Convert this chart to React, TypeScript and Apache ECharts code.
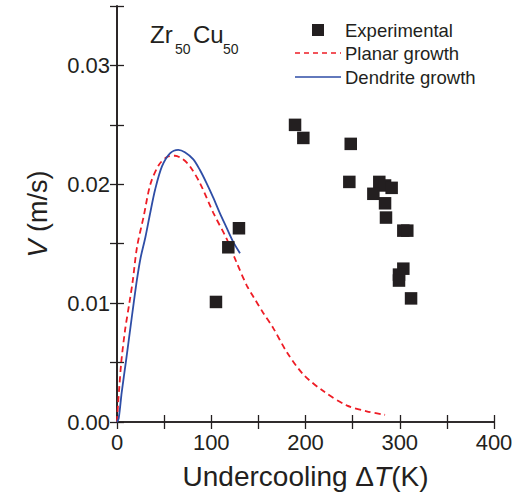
import React, { useEffect, useRef } from "react";
import * as echarts from "echarts";

const expX = [188.9, 197.7, 248, 246.5, 278.3, 284.4, 291.4, 272, 284.4, 285.4, 303.8, 308, 303.8, 299.2, 299.2, 312, 105, 118.1, 129.4];
const expY = [0.025, 0.0239, 0.0234, 0.0202, 0.0202, 0.0199, 0.0197, 0.0192, 0.0184, 0.0172, 0.0161, 0.0161, 0.0129, 0.0124, 0.0119, 0.0104, 0.0101, 0.0147, 0.0163];

const planarX = [0, 1.1, 2.5, 4.6, 8.5, 13.1, 16.6, 21.2, 28.3, 35.4, 44.2, 53, 61.5, 70, 77.5, 88, 102.2, 116.4, 127, 137.6, 145, 155, 165.8, 180, 197.7, 218.9, 243.7, 264.9, 284.4];
const planarY = [0, 0.0015, 0.003, 0.0051, 0.0077, 0.01, 0.0118, 0.0147, 0.0173, 0.02, 0.0216, 0.0223, 0.0224, 0.0221, 0.0215, 0.0201, 0.0176, 0.0154, 0.0134, 0.0115, 0.0105, 0.0092, 0.0079, 0.0059, 0.004, 0.0026, 0.0014, 0.0009, 0.0006];

const dendriteX = [0, 1.8, 5, 9.5, 13.5, 17.7, 21.2, 25, 30, 35, 40.6, 47.7, 56.2, 65, 72, 81, 88, 95, 102, 109, 116, 123, 130.5];
const dendriteY = [0, 0.0003, 0.0025, 0.0051, 0.0075, 0.01, 0.012, 0.0138, 0.0155, 0.0175, 0.0196, 0.0215, 0.0226, 0.0229, 0.0227, 0.0221, 0.0212, 0.0201, 0.0189, 0.0176, 0.0164, 0.0152, 0.0142];

const seriesNames = ["Experimental", "Planar growth", "Dendrite growth"];
const xTickLabels = [0, 100, 200, 300, 400];
const yTickLabels = [0, 0.01, 0.02, 0.03];

const FONT = "Liberation Sans, Arial, sans-serif";
const INK = "#231f20";
const RED = "#ee1c25";
const BLUE = "#2e4da6";

export default function App() {
  const ref = useRef<HTMLDivElement>(null);
  useEffect(() => {
    const chart = echarts.init(ref.current!, null, { renderer: "svg" });
    const axisLine = { show: true, lineStyle: { color: INK, width: 1.6 } };
    const tick = { show: true, inside: true, length: 7, lineStyle: { color: INK, width: 1.3 } };
    const legendText = (y: number, text: string) => ({
      type: "text",
      x: 345,
      y,
      style: { text, fill: INK, font: `18.5px ${FONT}`, textVerticalAlign: "middle", verticalAlign: "middle" },
    });
    chart.setOption({
      animation: false,
      backgroundColor: "#fff",
      textStyle: { fontFamily: FONT },
      grid: { left: 117, top: 6, right: 29, bottom: 71, containLabel: false },
      xAxis: [
        {
          type: "value",
          min: 0,
          max: 400,
          interval: 50,
          position: "bottom",
          axisLine,
          axisTick: tick,
          splitLine: { show: false },
          axisLabel: {
            fontSize: 22,
            color: INK,
            margin: 9,
            fontFamily: FONT,
            formatter: (v: number) => (xTickLabels.includes(v) ? String(v) : ""),
          },
          name: "Undercooling \u0394{i|T}(K)",
          nameLocation: "middle",
          nameGap: 40,
          nameTextStyle: {
            fontSize: 28,
            color: INK,
            fontFamily: FONT,
            rich: { i: { fontSize: 28, fontStyle: "italic", color: INK, fontFamily: FONT } },
          },
        },
        {
          type: "value",
          min: 0,
          max: 400,
          interval: 50,
          position: "top",
          axisLine,
          axisTick: tick,
          axisLabel: { show: false },
          splitLine: { show: false },
        },
      ],
      yAxis: [
        {
          type: "value",
          min: 0,
          max: 0.035,
          interval: 0.005,
          position: "left",
          axisLine,
          axisTick: tick,
          splitLine: { show: false },
          axisLabel: {
            fontSize: 22,
            color: INK,
            margin: 7,
            fontFamily: FONT,
            formatter: (v: number) =>
              yTickLabels.some((t) => Math.abs(t - v) < 1e-9) ? v.toFixed(2) : "",
          },
          name: "{i|V} (m/s)",
          nameLocation: "middle",
          nameGap: 66,
          nameTextStyle: {
            fontSize: 27,
            color: INK,
            fontFamily: FONT,
            rich: { i: { fontSize: 27, fontStyle: "italic", color: INK, fontFamily: FONT } },
          },
        },
        {
          type: "value",
          min: 0,
          max: 0.035,
          interval: 0.005,
          position: "right",
          axisLine,
          axisTick: tick,
          axisLabel: { show: false },
          splitLine: { show: false },
        },
      ],
      graphic: [
        { type: "text", left: 150, top: 22, style: { text: "Zr", fill: INK, font: `24px ${FONT}` } },
        { type: "text", left: 175, top: 42, style: { text: "50", fill: INK, font: `14px ${FONT}` } },
        { type: "text", left: 193, top: 22, style: { text: "Cu", fill: INK, font: `24px ${FONT}` } },
        { type: "text", left: 223, top: 42, style: { text: "50", fill: INK, font: `14px ${FONT}` } },
        { type: "rect", shape: { x: 312, y: 24, width: 12, height: 12 }, style: { fill: INK } },
        legendText(30, seriesNames[0]),
        { type: "line", shape: { x1: 295, y1: 53, x2: 341, y2: 53 }, style: { stroke: RED, lineWidth: 1.5, lineDash: [5, 4] } },
        legendText(53, seriesNames[1]),
        { type: "line", shape: { x1: 295, y1: 77, x2: 341, y2: 77 }, style: { stroke: BLUE, lineWidth: 1.5 } },
        legendText(77, seriesNames[2]),
      ],
      series: [
        {
          name: seriesNames[0],
          type: "scatter",
          symbol: "rect",
          symbolSize: 12.5,
          itemStyle: { color: INK, opacity: 1 },
          data: expX.map((x, i) => [x, expY[i]]),
          z: 5,
        },
        {
          name: seriesNames[1],
          type: "line",
          showSymbol: false,
          symbol: "none",
          smooth: 0.3,
          lineStyle: { color: RED, width: 1.8, type: [6, 4] },
          itemStyle: { color: RED },
          data: planarX.map((x, i) => [x, planarY[i]]),
        },
        {
          name: seriesNames[2],
          type: "line",
          showSymbol: false,
          symbol: "none",
          smooth: 0.3,
          lineStyle: { color: BLUE, width: 1.8 },
          itemStyle: { color: BLUE },
          data: dendriteX.map((x, i) => [x, dendriteY[i]]),
        },
      ],
    });
    return () => chart.dispose();
  }, []);
  return <div ref={ref} style={{ width: 523, height: 495, position: "absolute", left: 0, top: 0 }} />;
}
